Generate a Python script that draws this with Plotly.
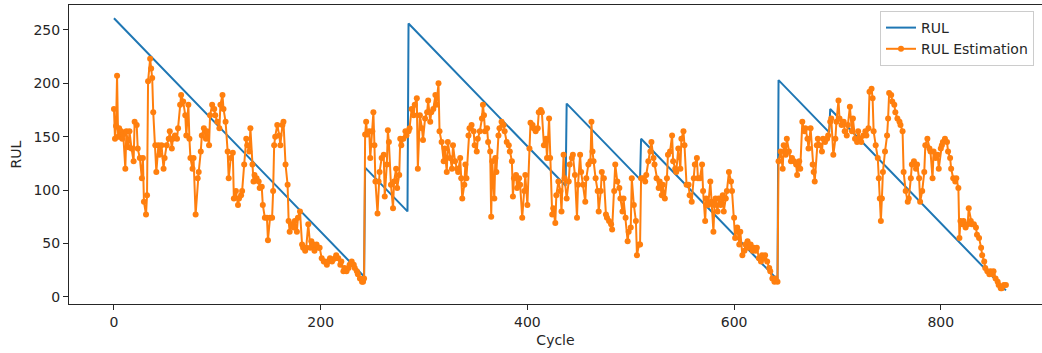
import plotly.graph_objects as go

# True RUL (sawtooth breakpoints)
rul_cycle = [0, 242, 243, 284, 285, 437, 438, 509, 510, 642, 643, 692, 693, 863]
rul_value = [261, 19, 121, 80, 256, 104, 181, 110, 148, 16, 203, 154, 176, 6]

# Estimated RUL
est_cycle = [
    0, 1, 2, 3, 4, 5, 6, 7, 8, 9, 11, 12, 14, 15, 17, 19, 20, 22, 23, 25,
    27, 28, 29, 31, 32, 33, 35, 36, 37, 38, 40, 41, 43, 44, 46, 48, 49, 51, 53, 54,
    56, 57, 59, 61, 62, 64, 65, 67, 69, 70, 72, 73, 74, 76, 77, 79, 81, 82, 84, 85,
    87, 89, 90, 92, 93, 95, 97, 98, 100, 102, 103, 105, 106, 108, 110, 111,
    113, 115, 116, 118, 120, 121, 123, 124, 126, 128, 129, 131, 132, 134, 135, 136, 138, 140, 141, 143,
    144, 146, 148, 149, 151, 153, 154, 155, 156, 158, 160, 161, 163, 164, 166, 168, 169, 170, 172, 174,
    175, 177, 178, 180, 182, 183, 185, 186, 188, 190, 191, 193, 194, 196, 198, 199, 201, 203, 204, 206,
    207, 209, 211, 212, 214, 215, 217, 219,
    220, 222, 223, 225, 227, 228, 230, 232, 233, 235, 236, 238, 240, 241, 242, 243, 244, 245, 247, 248,
    250, 251, 252, 253, 255, 256, 257, 259, 261, 262, 264, 265, 266, 268, 270, 271, 273, 274, 276, 277,
    278, 280, 282, 283, 285, 286, 288, 290, 291, 293, 294, 296, 298, 299, 301, 303, 304, 306, 307, 309,
    311, 312, 314, 315, 317, 319, 320, 322, 323, 325, 327, 328, 330, 332, 333,
    335, 336, 337, 339, 340, 341, 343, 344, 346, 348, 349, 351, 352, 354, 356, 357, 358, 359, 361, 362,
    364, 365, 366, 368, 369, 370, 372, 373, 375, 377, 378, 380, 382, 383, 385, 386, 387, 389, 390, 392,
    393, 395, 397, 398, 400, 402, 403, 405, 406, 408, 410, 411, 413, 414, 416, 418, 419, 421, 422, 424,
    425, 427, 428, 430, 432, 433, 435, 436, 438, 440, 441, 443, 444, 446, 448, 449,
    451, 452, 454, 456, 457, 459, 461, 462, 463, 464, 466, 468, 469, 471, 472, 474, 476, 477, 479, 481,
    482, 484, 485, 487, 489, 490, 492, 493, 495, 497, 498, 500, 501, 503, 505, 506, 508, 509, 510, 512,
    514, 515, 517, 519, 520, 522, 523, 525, 527, 528, 530, 531, 533, 535, 536, 538, 540, 541, 543, 544,
    546, 548, 549, 551, 552, 554, 556, 557, 559, 561, 562, 564, 565,
    567, 569, 570, 572, 573, 575, 577, 578, 580, 581, 582, 584, 585, 587, 589, 590, 592, 593, 595, 597,
    598, 600, 601, 603, 605, 606, 608, 610, 611, 613, 614, 616, 618, 619, 621, 622, 624, 626, 627, 629,
    630, 632, 634, 635, 637, 639, 640, 642, 643, 645, 647, 648, 650, 651, 653, 655, 656, 658, 660, 661,
    663, 664, 666, 668, 669, 671, 672, 674, 676, 677, 678, 680, 681,
    683, 685, 686, 688, 690, 691, 693, 694, 696, 698, 699, 701, 702, 704, 706, 707, 709, 710, 712, 714,
    715, 717, 719, 720, 722, 723, 725, 727, 728, 730, 731, 733, 734, 735, 737, 739, 740, 741, 742, 743,
    744, 746, 748, 749, 750, 752, 753, 755, 756, 758, 760, 761, 763, 764, 766, 768, 769, 771, 772, 774,
    776, 777, 779, 780, 782, 784, 785, 787, 789, 790, 792, 793, 795, 797, 798,
    800, 801, 802, 804, 806, 807, 809, 810, 812, 814, 815, 817, 818, 819, 821, 822, 824, 826, 827, 829,
    830, 832, 834, 835, 837, 839, 840, 842, 843, 845, 847, 848, 850, 851, 853, 855, 856, 858, 859, 861,
    863,
]
est_rul = [
    176, 148, 160, 207, 150, 158, 150, 155, 148, 152, 120, 155, 140, 155, 139, 127, 164, 161, 139, 130,
    111, 130, 89, 77, 95, 202, 223, 214, 205, 173, 142, 117, 142, 133, 142, 120, 130, 142, 148, 155,
    139, 148, 151, 148, 158, 180, 189, 183, 170, 151, 180, 148, 130, 120, 130, 77, 111, 117, 136, 151,
    158, 148, 155, 142, 170, 180, 176, 170, 164, 158, 180, 189, 176, 164, 136, 111,
    130, 135, 92, 99, 86, 92, 95, 99, 124, 148, 142, 136, 158, 124, 108, 114, 111, 108, 102, 103,
    86, 74, 74, 53, 74, 74, 99, 142, 150, 161, 151, 142, 161, 164, 124, 105, 71, 61, 68, 65,
    71, 61, 74, 80, 49, 46, 43, 46, 68, 46, 52, 49, 43, 49, 46, 46, 36, 33, 33, 30,
    33, 36, 33, 35, 36, 39, 36, 30,
    33, 24, 27, 24, 27, 30, 33, 30, 27, 24, 21, 17, 14, 14, 17, 152, 164, 152, 155, 130,
    155, 173, 142, 108, 78, 108, 117, 130, 133, 94, 124, 156, 145, 105, 83, 108, 120, 102, 114, 148,
    142, 148, 155, 151, 155, 158, 176, 170, 180, 186, 120, 170, 158, 147, 167, 173, 184, 164, 173, 176,
    189, 180, 200, 155, 145, 127, 139, 117, 145, 130, 120, 142, 127, 120, 117,
    130, 111, 92, 105, 124, 111, 151, 158, 161, 155, 142, 136, 148, 155, 167, 180, 170, 155, 158, 145,
    136, 75, 127, 92, 130, 117, 151, 158, 164, 161, 155, 145, 142, 136, 127, 94, 111, 114, 102, 111,
    105, 74, 99, 114, 86, 139, 163, 161, 158, 155, 158, 173, 175, 173, 142, 148, 130, 167, 130, 77,
    83, 69, 95, 108, 99, 80, 133, 111, 92, 108, 124, 130, 133, 114, 74, 105,
    133, 117, 105, 89, 111, 124, 127, 164, 136, 127, 111, 99, 80, 99, 117, 111, 77, 74, 71, 68,
    63, 99, 124, 108, 102, 92, 80, 92, 74, 52, 61, 65, 111, 86, 71, 39, 49, 49, 111, 111,
    108, 114, 127, 136, 145, 130, 124, 111, 102, 108, 95, 105, 92, 111, 133, 136, 151, 127, 120, 117,
    139, 120, 148, 155, 142, 105, 105, 95, 89, 111, 124, 130, 111,
    111, 124, 99, 71, 92, 86, 108, 89, 61, 86, 92, 80, 92, 86, 95, 80, 92, 99, 117, 108,
    99, 74, 55, 65, 49, 61, 39, 43, 49, 52, 46, 49, 43, 46, 43, 46, 36, 33, 39, 36,
    39, 33, 27, 24, 17, 14, 17, 14, 127, 136, 120, 142, 133, 148, 136, 127, 130, 127, 124, 114,
    127, 120, 164, 155, 158, 148, 139, 158, 124, 117, 108, 142, 148,
    142, 136, 148, 145, 148, 151, 164, 167, 133, 148, 164, 184, 167, 161, 164, 155, 151, 161, 178, 155,
    167, 148, 145, 155, 148, 145, 151, 155, 151, 158, 192, 195, 186, 155, 142, 130, 111, 92, 71, 92,
    117, 136, 151, 167, 191, 189, 183, 180, 173, 167, 164, 161, 155, 117, 99, 89, 92, 111, 124, 127,
    120, 124, 111, 89, 99, 117, 142, 148, 139, 136, 111, 136, 130, 133, 120,
    139, 142, 145, 148, 145, 136, 130, 120, 111, 108, 111, 102, 55, 71, 68, 71, 65, 68, 83, 71,
    68, 68, 65, 58, 55, 46, 39, 33, 27, 24, 21, 24, 21, 24, 17, 14, 11, 8, 8, 11,
    11,
]
assert len(est_cycle) == len(est_rul), (len(est_cycle), len(est_rul))

x_ticks = [0, 200, 400, 600, 800]
y_ticks = [0, 50, 100, 150, 200, 250]

BLUE = "#1f77b4"
ORANGE = "#ff7f0e"
AX = "#262626"

fig = go.Figure()
fig.add_trace(go.Scatter(
    x=rul_cycle, y=rul_value, mode="lines", name="RUL",
    line=dict(color=BLUE, width=2),
))
fig.add_trace(go.Scatter(
    x=est_cycle, y=est_rul, mode="lines+markers", name="RUL Estimation",
    line=dict(color=ORANGE, width=2),
    marker=dict(color=ORANGE, size=6, line=dict(width=0)),
))

fig.update_layout(
    width=1042, height=353,
    margin=dict(l=69, r=0, t=5, b=49),
    plot_bgcolor="white", paper_bgcolor="white",
    font=dict(family="DejaVu Sans", size=14, color=AX),
    legend=dict(
        x=(880 - 69) / 973, y=1 - 6 / 299, xanchor="left", yanchor="top",
        bgcolor="rgba(255,255,255,0.8)", bordercolor="#cccccc", borderwidth=1,
        font=dict(size=14, color=AX), tracegroupgap=0,
    ),
)
fig.update_xaxes(
    range=[-43.5, 897.9], tickvals=x_ticks, ticks="outside", ticklen=5, tickwidth=1,
    tickcolor=AX, showline=True, linecolor=AX, linewidth=1, mirror=True,
    showgrid=False, zeroline=False,
    title=dict(text="Cycle", standoff=6, font=dict(size=14, color=AX)),
)
fig.update_yaxes(
    range=[-6.8, 273.4], tickvals=y_ticks, ticks="outside", ticklen=5, tickwidth=1,
    tickcolor=AX, showline=True, linecolor=AX, linewidth=1, mirror=False,
    showgrid=False, zeroline=False,
    title=dict(text="RUL", standoff=8, font=dict(size=14, color=AX)),
)

fig.write_html("out.html", config={"displayModeBar": False},
               post_script="document.body.style.margin='0';document.body.style.overflow='hidden';")
